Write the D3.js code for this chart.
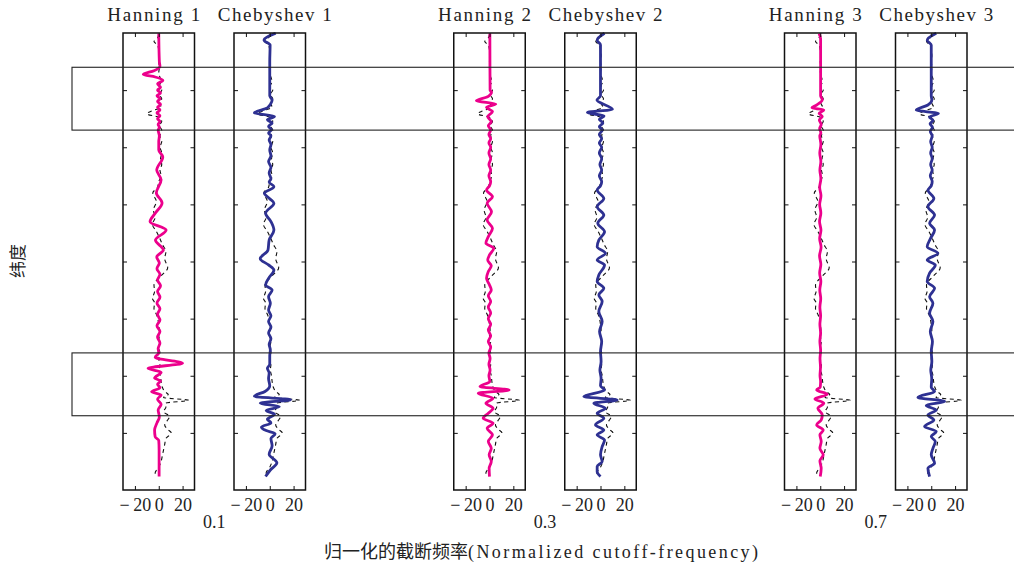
<!DOCTYPE html>
<html>
<head>
<meta charset="utf-8">
<script src="https://cdn.jsdelivr.net/npm/d3@7"></script>
<style>
  body { margin: 0; background: #fff; }
  svg text { font-family: "Liberation Serif", "Times New Roman", serif; fill: #222; }
  svg .cjk { font-family: "Noto Sans CJK SC", sans-serif; }
</style>
</head>
<body>
<svg id="chart" width="1014" height="574"></svg>
<script>
// Profiles: [latitude, value]
const reference = [
  [79.5, 0], [78.3, -1], [77, -4], [75.8, -1], [74, 0], [72, 0.5], [70, 0], [68, 0.5], [66, 0],
  [64.5, 1], [63, 2], [61.5, 0.5], [60, 2.5], [58.5, 0.5], [57, 2.5], [55.5, 0.5], [54, 2],
  [52.7, -6], [51.7, -10], [50.5, 0], [49, 2.5], [47.5, 0.5], [46, 2.5], [44, 1], [42, 2.5],
  [40, 1], [38, 2.5], [36, 1.5], [34, 2.5], [32, 1], [30, 2], [28, 0], [26, -1], [24, -5],
  [21, -2], [18, -4.5], [15.5, -3], [13, -5.3], [10.5, -2], [8, 1], [6, 3], [3.5, 6], [1, 5],
  [-2.2, 7.5], [-5, 2], [-8.2, -4], [-10.5, -3.5], [-12.9, -5.3], [-14.5, -3.5], [-16.4, -4],
  [-19, -1.5], [-22, 0], [-24, 0.5], [-26, 0], [-28, 1], [-30, 0], [-32, 1], [-34, 0], [-36, 1],
  [-38, 0.5], [-40, 1.5], [-42, 2], [-44, 3], [-45.5, 5], [-46.6, 8], [-47.6, 4], [-48.6, 25],
  [-49.6, 6], [-51, 6], [-52.5, 4], [-54.3, 9], [-55.8, 7], [-57.2, 5], [-58.6, 7], [-60, 10.5],
  [-62, 6], [-64, 5], [-66, 4], [-68, 3], [-70, 2], [-72, 0], [-74, -3], [-75.3, -3]
];

const hanning1 = [
  [79.8, 0], [70, 0.5], [68.4, 1], [66.8, -4], [65.5, -13], [64.6, -3], [63.4, 3.5], [62.2, -1],
  [61, 1.5], [60, -1], [59, 1.5], [58, -1.5], [57, 1], [56, -1], [55, 1.5], [54, -1], [53, 1],
  [52, -1.5], [51, 1], [50, -1], [49, 1], [48, -0.5], [47, 0.5], [46, -0.5], [44, 0.5], [42, 0],
  [39, 0], [36.6, 3.4], [32, -1.7], [28.6, 2], [24, -2], [20.5, 2.8], [17, -2.8], [13.9, -7.3],
  [11, 6.2], [7.5, -2.8], [4, 3.9], [1.6, -1.7], [-0.5, 0.5], [-2.5, -1.5], [-4.5, 1], [-6.5, -1],
  [-8.5, 1.5], [-10.5, -1], [-12.5, 1], [-14.5, -1.5], [-16.5, 1], [-18.5, -1], [-20.5, 1],
  [-22.5, -1.5], [-24.5, 1], [-26.5, -1], [-28.5, 1], [-30.5, -0.5], [-32, 0], [-33.6, -3],
  [-35.6, 20], [-37.4, -9], [-38.8, 2], [-40.8, -3.5], [-41.8, 1.5], [-43, -1], [-44.2, 1],
  [-45.6, -6], [-46.7, 2], [-48.2, -1], [-50, 2], [-52, -0.5], [-54.4, 0.5], [-56.5, -1.5],
  [-59, -3.5], [-61.4, -3], [-62.6, 0], [-66, 0.3], [-75.3, 0.3]
];

const chebyshev1 = [
  [79.9, 5], [77.5, -4.8], [75.8, 0.3], [70, 0], [58, 0], [56.5, 2], [55, 0.5], [53.8, -2],
  [52, -13], [50.8, 4], [49.6, -2], [48.5, 2], [47.3, -1], [46.1, 1.5], [45, -1], [44, 1],
  [42.5, -0.5], [41, 1], [39, 0], [37, 1], [35, -1], [33, 1], [31, -0.5], [29, 1], [27.8, -0.5],
  [26.2, 3.5], [23.9, -4.5], [22, 0], [20.4, 3.5], [16.9, -3.5], [14, 1], [11, 3.5], [7.5, -0.5],
  [4, -1.5], [1, -8], [-1.2, -1], [-3, 3.5], [-5.9, -1], [-8.2, -3.5], [-10, 2], [-12.3, -1],
  [-14.6, 0.5], [-17, -1], [-19, 1], [-21, -1], [-23, 1], [-25, -1], [-27, 1], [-29, -0.5],
  [-31, 0.5], [-33, 0], [-36, 0], [-37.4, -2], [-39, -0.5], [-41, -1], [-43.5, 0], [-45.5, -4],
  [-47.2, -13], [-48.4, 17.5], [-49.6, -8], [-50.8, 8], [-52.2, -3], [-53.5, 4], [-55.2, -2],
  [-56.5, 1], [-58, -7], [-59.2, -3], [-60.3, 4.5], [-62, 1], [-64.5, 2], [-67.5, -0.5],
  [-70.5, 6], [-73, 0.5], [-75.3, -3.5]
];

const hanning2 = [
  [79.8, 0.3], [60, 0.5], [59.3, 1.7], [57.8, -1], [56.3, -11], [55.1, 5.3], [54, -2.5],
  [52.5, 2.5], [50.7, -1.5], [49, 1.5], [47.5, -1], [46, 1], [44.5, -0.5], [43, 1], [41.5, -0.5],
  [40, 1], [38, -0.5], [36, 1], [34, -0.5], [32, 1], [30, -0.5], [28, 1], [26.5, 0], [25, -2.5],
  [22.7, 2.5], [20.4, -2], [17.4, 1.7], [14.5, -2], [11.6, 2.5], [8.7, -1], [6.4, -3], [4.6, 3.6],
  [2.3, 0], [0.5, -1.5], [-1.5, 1.5], [-3.5, -1], [-5.9, -2.5], [-8.2, 0], [-10, 1.5], [-12, -1],
  [-14, 1], [-16, -1], [-18, 1], [-20, -1], [-22, 1], [-24, -1], [-26, 1], [-28, -1], [-30, 1],
  [-32, -0.5], [-34, 0.5], [-36, -0.5], [-38, 0.5], [-40, -0.5], [-42, 0.3], [-43.8, -8],
  [-45, 16.5], [-46.1, -9.5], [-47.9, 3], [-49.6, -3], [-51.4, 3], [-53.1, -1], [-54.9, -5.3],
  [-56.6, 3], [-58.4, -2], [-60.7, 2.5], [-63, -1], [-65.4, 1.5], [-67.7, -0.3], [-70, 1.5],
  [-72.4, -0.3], [-75.3, 0]
];

const chebyshev2 = [
  [79.9, 3.4], [77.5, -2.8], [75.8, 0], [58, 0], [56.5, -3], [53.3, 10], [52.2, -11], [50.9, 3],
  [49.8, -1], [48.5, 2], [47.2, -1], [46, 1.5], [44.5, -1], [43, 1], [41.5, -1], [40, 1], [38, -1],
  [36, 1], [34, -0.5], [32, 1], [30, -1], [28, 1], [26.5, 0], [25, -2.8], [22.1, 2.8], [19.2, -2.8],
  [16.3, 2.8], [13.4, -2.3], [10.4, 3.4], [7.5, -1.4], [5.2, -2.8], [2.9, 4.2], [0.5, -2.8],
  [-1.2, 3.4], [-4.7, -1.4], [-7, -2.8], [-9.4, 2.8], [-11.7, -1.4], [-14, 1.4], [-17.5, -1.4],
  [-21, 1.4], [-24.5, -0.8], [-28, 1], [-31.5, 0], [-35, 0.5], [-38, -0.5], [-41, 0.5],
  [-43.5, 0], [-45, 3.4], [-47.3, -14], [-48.5, 14], [-49.6, -5.6], [-51.4, 4.2], [-53.1, -2.8],
  [-54.9, 2.8], [-57.2, -4.2], [-59, 2.8], [-60.7, -2.8], [-62.5, 3.4], [-64.8, 1.4], [-67.7, 0],
  [-70, 1.4], [-71.8, -2.8], [-73.6, -2.8], [-75.3, 0]
];

const hanning3 = [
  [79.8, -1], [78, 0.3], [58, 0.3], [56.6, 1.7], [54.8, -3], [53.8, -7], [53, 3], [51.9, -1],
  [50.8, 1.7], [49.5, -0.8], [48, 0.8], [46.5, -0.5], [45, 0.5], [44, -0.4], [41, 0.5],
  [38, -0.4], [35, 0.5], [32, -0.3], [29, 0.5], [26, -0.5], [23, 0.6], [20, -0.5], [17, 0.5],
  [14, -0.6], [11, 0.6], [8, -0.5], [5, 0.7], [2, -0.6], [-1, 0.5], [-4, -0.5], [-7, 0.5],
  [-10, -0.4], [-13, 0.4], [-16, -0.3], [-19, 0.3], [-22, -0.3], [-25, 0.3], [-28, -0.3],
  [-31, 0.3], [-34, -0.2], [-37, 0.2], [-40, -0.2], [-42, 0.3], [-44, 0], [-45, -3],
  [-46.5, 5.9], [-48.1, -4.5], [-49.6, 3], [-51.4, -2], [-53.7, 1.7], [-55.5, 0.8], [-57.2, -3],
  [-59, 2.5], [-60.7, -0.3], [-63, 0.8], [-65.4, -0.3], [-67.7, 2.5], [-69.8, -0.3],
  [-72.4, 0.8], [-75.3, 0]
];

const chebyshev3 = [
  [79.9, 4.2], [77.5, -3.4], [75.8, 0], [58, 0], [56.5, 0.5], [54.8, -2.8], [53, -12.6],
  [51.8, 6], [50.6, -1.5], [49.4, 1.5], [48.2, -1], [47, 1], [45.5, -0.8], [44, 0.8], [42, -0.5],
  [40, 0.8], [38, -0.5], [36, 0.8], [34, -0.5], [32, 0.8], [30, -0.8], [28, 0.8], [26.5, 0],
  [25, -2.8], [22.1, 2.2], [19.2, -2.8], [16.3, 2.8], [13.4, -1.4], [11, 2.8], [8.1, -0.6],
  [5.2, -3.4], [2.9, 5.6], [0.5, -3.4], [-1.2, 3.4], [-4.1, -1.4], [-7, -3.4], [-9.4, 2.8],
  [-12.3, -1.4], [-14.6, 1.4], [-18.1, -1.4], [-21, 1.4], [-24.5, -0.8], [-28, 1], [-31.5, 0],
  [-35, 0.5], [-38, -0.4], [-41, 0.4], [-44, 0], [-45.5, 2.8], [-47.6, -11.2], [-49, 11.2],
  [-50.4, -4.2], [-52, 4.2], [-53.7, -2.8], [-55.5, 2.2], [-57.8, -5.6], [-59.5, 4.2],
  [-61.3, 0], [-63, 3.4], [-65.4, 1.4], [-67.7, 0], [-70.6, 2.8], [-72.4, -2.8], [-75.3, -1.4]
];

const titles = ["Hanning 1", "Chebyshev 1", "Hanning 2", "Chebyshev 2", "Hanning 3", "Chebyshev 3"];
const series = [hanning1, chebyshev1, hanning2, chebyshev2, hanning3, chebyshev3];
const cutoffs = ["0.1", "0.3", "0.7"];
const xTicks = [-20, 0, 20];
const latTicks = [60, 40, 20, 0, -20, -40, -60];
const boxBands = [[68, 46], [-32, -54]];

const colors = ["#ec008c", "#2e3192"];

const svg = d3.select("#chart");

// layout
const y = d3.scaleLinear().domain([80, -80]).range([33, 490]);
const groupX = d3.scaleLinear().domain([0, 2]).range([123, 784.5]);
const panelW = 71.5;
const pairGap = 111;

const fmt = d => d < 0 ? "\u2212\u2009" + Math.abs(d) : String(d);

function cleanAxis(sel) {
  sel.select(".domain").remove();
  sel.selectAll(".tick line").attr("stroke", "#111").attr("stroke-width", 1);
  sel.attr("font-family", null).attr("font-size", null);
}

titles.forEach((title, i) => {
  const group = Math.floor(i / 2);
  const kind = i % 2;
  const left = groupX(group) + kind * pairGap;
  const x = d3.scaleLinear().domain([-30, 30]).range([left, left + panelW]);

  const g = svg.append("g").attr("class", "panel");

  const line = d3.line()
    .x(d => x(d[1]))
    .y(d => y(d[0]))
    .curve(d3.curveMonotoneY);

  // dashed reference under the filtered profile
  g.append("path")
    .datum(reference)
    .attr("d", line)
    .attr("fill", "none")
    .attr("stroke", "#111")
    .attr("stroke-width", 1.1)
    .attr("stroke-dasharray", "4,3.5");

  g.append("path")
    .datum(series[i])
    .attr("d", line)
    .attr("fill", "none")
    .attr("stroke", colors[kind])
    .attr("stroke-width", 2.8)
    .attr("stroke-linejoin", "round");

  // ticks pointing inward
  g.append("g")
    .attr("transform", `translate(0,${y(-80)})`)
    .call(d3.axisBottom(x).tickValues(xTicks).tickSize(-4).tickPadding(8).tickFormat(fmt))
    .call(cleanAxis)
    .selectAll("text")
    .attr("font-size", 18)
    .attr("fill", "#222");

  g.append("g")
    .attr("transform", `translate(0,${y(80)})`)
    .call(d3.axisTop(x).tickValues(xTicks).tickSize(-4).tickFormat(""))
    .call(cleanAxis);

  g.append("g")
    .attr("transform", `translate(${left},0)`)
    .call(d3.axisLeft(y).tickValues(latTicks).tickSize(-4).tickFormat(""))
    .call(cleanAxis);

  g.append("g")
    .attr("transform", `translate(${left + panelW},0)`)
    .call(d3.axisRight(y).tickValues(latTicks).tickSize(-4).tickFormat(""))
    .call(cleanAxis);

  g.append("rect")
    .attr("x", left)
    .attr("y", y(80))
    .attr("width", panelW)
    .attr("height", y(-80) - y(80))
    .attr("fill", "none")
    .attr("stroke", "#111")
    .attr("stroke-width", 1.5);

  // titles sit a little apart from each other, as in the figure
  g.append("text")
    .attr("x", left + panelW / 2 + (kind === 0 ? -5 : 5))
    .attr("y", 21)
    .attr("text-anchor", "middle")
    .attr("font-size", 19)
    .attr("textLength", kind === 0 ? 93 : 114)
    .attr("lengthAdjust", "spacing")
    .text(title);
});

// cutoff labels under each pair
cutoffs.forEach((c, k) => {
  const center = (groupX(k) + groupX(k) + pairGap + panelW) / 2;
  svg.append("text")
    .attr("x", center)
    .attr("y", 528)
    .attr("text-anchor", "middle")
    .attr("font-size", 18)
    .text(c);
});

// highlighted latitude bands
svg.selectAll(".band")
  .data(boxBands)
  .enter()
  .append("rect")
  .attr("class", "band")
  .attr("x", 72)
  .attr("y", d => y(d[0]))
  .attr("width", 1014 - 72 + 10)
  .attr("height", d => y(d[1]) - y(d[0]))
  .attr("fill", "none")
  .attr("stroke", "#222")
  .attr("stroke-width", 1.1);

// axis titles
svg.append("text")
  .attr("class", "cjk")
  .attr("transform", "translate(24,261) rotate(-90)")
  .attr("text-anchor", "middle")
  .attr("font-size", 17)
  .text("纬度");

const xCenter = 541;
const cjkPart = "归一化的截断频率";
const cjkW = cjkPart.length * 18;
const latinW = 290;
const xStart = xCenter - (cjkW + latinW) / 2;

svg.append("text")
  .attr("class", "cjk")
  .attr("x", xStart)
  .attr("y", 558)
  .attr("font-size", 18)
  .text(cjkPart);

svg.append("text")
  .attr("x", xStart + cjkW)
  .attr("y", 558)
  .attr("font-size", 18)
  .attr("textLength", latinW)
  .attr("lengthAdjust", "spacing")
  .text("(Normalized cutoff-frequency)");
</script>
</body>
</html>
